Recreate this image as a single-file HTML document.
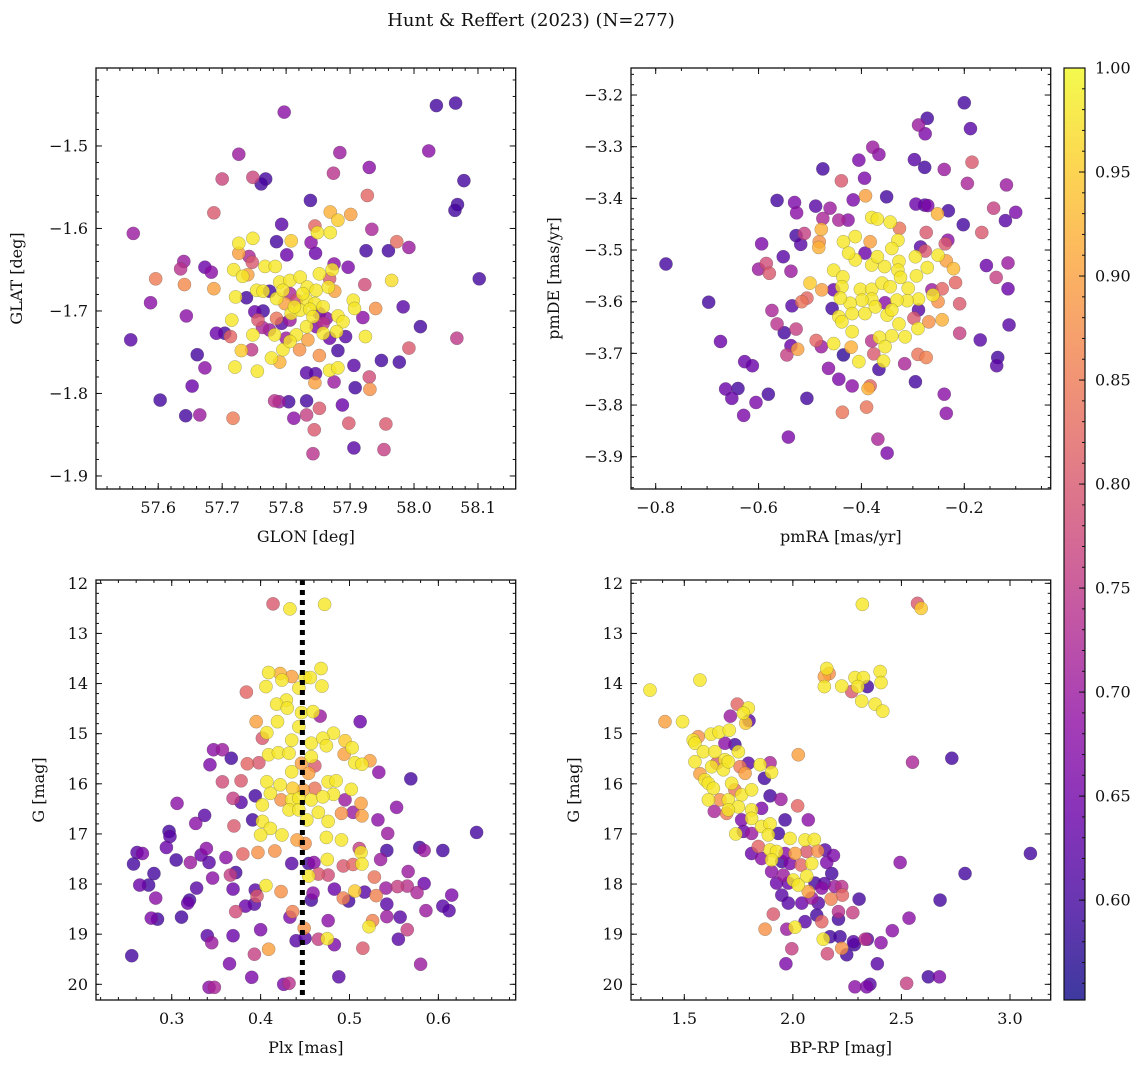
<!DOCTYPE html>
<html><head><meta charset="utf-8"><style>
body{margin:0;background:#fff;}
svg text{font-family:"DejaVu Serif","Liberation Serif",serif;fill:#111;}
</style></head><body>
<svg id="fig" xmlns="http://www.w3.org/2000/svg" width="1148" height="1067" viewBox="0 0 1148 1067">
<rect width="1148" height="1067" fill="#fff"/>
<text x="531" y="26" font-size="18" text-anchor="middle">Hunt &amp; Reffert (2023) (N=277)</text>
</svg>
<script>
// ---- Panel 1: GLON vs GLAT ----
const tlGlon=[57.797,58.035,58.065,57.726,57.884,58.023,57.700,57.748,57.768,57.761,57.874,57.930,58.078,57.838,57.927,58.068,58.064,57.687,57.561,57.793,57.845,57.934,57.869,57.901,57.881,57.973,57.992,57.925,57.960,57.785,57.808,57.726,57.748,57.839,57.801,57.846,57.640,57.635,57.673,57.683,57.596,57.641,57.687,57.726,57.742,57.747,57.588,57.644,57.557,57.691,57.704,57.713,57.661,57.673,57.653,57.603,57.643,57.665,57.717,57.782,57.789,57.804,57.832,57.812,57.832,57.852,57.844,57.888,57.898,57.956,57.842,57.906,57.953,57.906,57.908,57.930,57.931,57.875,57.949,57.977,57.992,58.067,58.010,58.102,57.983,57.940,57.920,57.897,57.923,57.875,57.965,57.881,57.832,57.846,57.845,57.715,57.720,57.755,57.777,57.790,57.730,57.746,57.748,57.763,57.756,57.751,57.764,57.782,57.795,57.721,57.738,57.718,57.732,57.740,57.767,57.783,57.754,57.764,57.774,57.790,57.806,57.822,57.833,57.847,57.852,57.872,57.868,57.866,57.876,57.785,57.798,57.816,57.832,57.845,57.858,57.808,57.822,57.837,57.852,57.863,57.881,57.889,57.905,57.907,57.785,57.806,57.832,57.816,57.834,57.858,57.879,57.893,57.924,57.806,57.821,57.852,57.868,57.881,57.800,57.774,57.858,57.847,57.868,57.795,57.806,57.826,57.813,57.793,57.842,57.869,57.849];
const tlGlat=[-1.459,-1.451,-1.448,-1.510,-1.508,-1.506,-1.540,-1.538,-1.540,-1.546,-1.533,-1.526,-1.542,-1.566,-1.560,-1.571,-1.578,-1.581,-1.606,-1.595,-1.597,-1.601,-1.580,-1.583,-1.590,-1.616,-1.623,-1.627,-1.627,-1.616,-1.615,-1.618,-1.612,-1.617,-1.632,-1.630,-1.640,-1.649,-1.647,-1.653,-1.661,-1.668,-1.673,-1.630,-1.634,-1.641,-1.690,-1.706,-1.735,-1.727,-1.727,-1.731,-1.753,-1.769,-1.791,-1.808,-1.827,-1.826,-1.830,-1.809,-1.810,-1.810,-1.809,-1.830,-1.826,-1.818,-1.844,-1.814,-1.836,-1.837,-1.873,-1.866,-1.868,-1.766,-1.793,-1.780,-1.795,-1.786,-1.760,-1.762,-1.745,-1.733,-1.719,-1.661,-1.695,-1.697,-1.708,-1.647,-1.668,-1.643,-1.663,-1.748,-1.775,-1.776,-1.787,-1.711,-1.768,-1.773,-1.757,-1.762,-1.748,-1.747,-1.729,-1.720,-1.711,-1.701,-1.700,-1.729,-1.747,-1.683,-1.684,-1.650,-1.658,-1.656,-1.646,-1.646,-1.675,-1.676,-1.676,-1.665,-1.663,-1.659,-1.671,-1.675,-1.655,-1.650,-1.661,-1.671,-1.676,-1.685,-1.691,-1.687,-1.687,-1.691,-1.695,-1.703,-1.699,-1.698,-1.703,-1.709,-1.706,-1.713,-1.687,-1.697,-1.709,-1.711,-1.719,-1.729,-1.735,-1.727,-1.725,-1.731,-1.731,-1.737,-1.747,-1.754,-1.772,-1.769,-1.733,-1.723,-1.715,-1.719,-1.733,-1.675,-1.679,-1.679,-1.695,-1.715,-1.707,-1.605,-1.605];
const tlProb=[.68,.6,.6,.7,.7,.68,.77,.77,.6,.6,.74,.68,.6,.6,.82,.6,.6,.8,.7,.62,.82,.72,.92,.9,.95,.83,.7,.6,.6,.6,.95,.98,.98,.68,.64,.64,.7,.74,.64,.68,.85,.87,.9,.9,.72,.8,.68,.68,.62,.64,.6,.82,.6,.68,.64,.6,.6,.7,.85,.74,.7,.6,.6,.68,.76,.8,.8,.64,.8,.8,.74,.62,.76,.62,.6,.78,.88,.7,.6,.6,.8,.75,.6,.6,.62,.88,.68,.66,.78,.68,.97,.6,.62,.62,.9,.98,.98,.98,.98,.92,.95,.75,.98,.72,.8,.64,.6,.98,.98,.98,.6,.98,.98,.9,.98,.98,.98,.98,.6,.98,.98,.98,.98,.98,.98,.98,.8,.98,.9,.98,.9,.78,.98,.98,.98,.98,.98,.98,.64,.68,.98,.98,.98,.98,.84,.7,.98,.98,.9,.98,.98,.62,.98,.98,.88,.88,.98,.98,.7,.7,.74,.66,.64,.98,.72,.98,.98,.62,.98,.98,.98];

// ---- Panel 2: pmRA vs pmDE ----
const trPmra=[-0.200,-0.272,-0.289,-0.276,-0.188,-0.378,-0.366,-0.405,-0.297,-0.277,-0.185,-0.239,-0.475,-0.439,-0.394,-0.194,-0.118,-0.392,-0.351,-0.416,-0.564,-0.530,-0.526,-0.489,-0.461,-0.294,-0.277,-0.271,-0.231,-0.252,-0.143,-0.100,-0.120,-0.202,-0.166,-0.274,-0.380,-0.369,-0.344,-0.444,-0.426,-0.475,-0.478,-0.511,-0.527,-0.518,-0.482,-0.483,-0.435,-0.412,-0.383,-0.326,-0.329,-0.232,-0.237,-0.285,-0.276,-0.341,-0.594,-0.552,-0.585,-0.600,-0.579,-0.537,-0.780,-0.157,-0.115,-0.138,-0.115,-0.217,-0.235,-0.221,-0.251,-0.272,-0.295,-0.327,-0.329,-0.355,-0.380,-0.369,-0.393,-0.412,-0.425,-0.454,-0.436,-0.500,-0.477,-0.506,-0.516,-0.454,-0.438,-0.402,-0.380,-0.360,-0.344,-0.324,-0.309,-0.293,-0.263,-0.243,-0.261,-0.289,-0.311,-0.331,-0.354,-0.380,-0.399,-0.422,-0.441,-0.457,-0.444,-0.418,-0.393,-0.373,-0.350,-0.341,-0.327,-0.289,-0.298,-0.269,-0.243,-0.251,-0.209,-0.113,-0.209,-0.169,-0.290,-0.315,-0.341,-0.365,-0.354,-0.380,-0.418,-0.438,-0.454,-0.478,-0.488,-0.524,-0.537,-0.545,-0.527,-0.550,-0.564,-0.535,-0.574,-0.674,-0.697,-0.627,-0.612,-0.664,-0.640,-0.652,-0.629,-0.605,-0.581,-0.506,-0.542,-0.435,-0.420,-0.405,-0.376,-0.357,-0.366,-0.316,-0.290,-0.274,-0.135,-0.137,-0.295,-0.239,-0.235,-0.464,-0.444,-0.418,-0.383,-0.387,-0.437,-0.390,-0.368,-0.350];
const trPmde=[-3.215,-3.245,-3.258,-3.275,-3.265,-3.301,-3.315,-3.326,-3.325,-3.340,-3.330,-3.344,-3.343,-3.366,-3.361,-3.371,-3.374,-3.395,-3.397,-3.403,-3.404,-3.408,-3.428,-3.415,-3.419,-3.411,-3.413,-3.414,-3.424,-3.430,-3.419,-3.427,-3.443,-3.451,-3.466,-3.466,-3.437,-3.440,-3.446,-3.442,-3.442,-3.439,-3.460,-3.468,-3.472,-3.489,-3.484,-3.495,-3.484,-3.474,-3.484,-3.458,-3.481,-3.481,-3.488,-3.494,-3.502,-3.497,-3.488,-3.513,-3.526,-3.537,-3.545,-3.541,-3.527,-3.530,-3.525,-3.553,-3.575,-3.563,-3.521,-3.536,-3.510,-3.534,-3.513,-3.522,-3.539,-3.532,-3.529,-3.513,-3.506,-3.519,-3.506,-3.539,-3.552,-3.564,-3.577,-3.593,-3.600,-3.577,-3.571,-3.576,-3.576,-3.564,-3.571,-3.553,-3.574,-3.550,-3.577,-3.575,-3.587,-3.595,-3.598,-3.597,-3.602,-3.595,-3.597,-3.603,-3.593,-3.613,-3.629,-3.623,-3.623,-3.610,-3.626,-3.616,-3.643,-3.616,-3.632,-3.639,-3.635,-3.600,-3.604,-3.645,-3.661,-3.674,-3.652,-3.668,-3.666,-3.669,-3.687,-3.676,-3.658,-3.639,-3.681,-3.687,-3.675,-3.692,-3.685,-3.703,-3.653,-3.660,-3.643,-3.608,-3.617,-3.677,-3.601,-3.716,-3.724,-3.769,-3.768,-3.787,-3.820,-3.795,-3.779,-3.787,-3.862,-3.703,-3.688,-3.716,-3.701,-3.715,-3.731,-3.720,-3.702,-3.708,-3.708,-3.724,-3.755,-3.779,-3.816,-3.729,-3.750,-3.763,-3.763,-3.768,-3.814,-3.804,-3.866,-3.893];
const trProb=[.6,.6,.7,.66,.62,.7,.68,.66,.62,.6,.8,.7,.6,.8,.66,.72,.7,.9,.6,.66,.6,.66,.68,.62,.7,.64,.62,.66,.6,.92,.76,.66,.62,.6,.8,.8,.98,.98,.98,.72,.68,.72,.92,.76,.6,.62,.88,.92,.98,.98,.9,.84,.98,.68,.8,.62,.8,.98,.66,.62,.78,.7,.8,.7,.6,.64,.7,.76,.64,.82,.9,.93,.98,.98,.98,.98,.98,.98,.98,.98,.64,.98,.98,.98,.98,.95,.9,.82,.84,.64,.98,.98,.98,.98,.98,.98,.98,.98,.7,.82,.98,.98,.98,.98,.68,.98,.98,.98,.98,.6,.98,.98,.98,.98,.98,.98,.98,.62,.8,.88,.92,.88,.8,.62,.76,.62,.98,.98,.98,.98,.98,.74,.98,.98,.98,.7,.82,.9,.64,.76,.76,.6,.74,.62,.72,.64,.6,.64,.64,.64,.6,.64,.66,.66,.6,.6,.66,.58,.92,.98,.8,.98,.6,.72,.84,.86,.6,.62,.6,.68,.68,.68,.66,.68,.82,.92,.84,.84,.72,.66];

// ---- Panel 3: Plx vs G ----
const blPlx=[.414,.433,.472,.409,.422,.424,.435,.450,.456,.468,.469,.406,.443,.384,.429,.418,.430,.446,.459,.467,.395,.419,.443,.407,.482,.435,.457,.470,.474,.495,.503,.402,.512,.347,.357,.367,.343,.385,.398,.409,.420,.432,.457,.446,.461,.494,.506,.514,.523,.533,.569,.357,.378,.407,.422,.435,.454,.476,.485,.502,.411,.436,.448,.461,.482,.369,.378,.394,.402,.423,.435,.443,.457,.470,.495,.513,.553,.306,.337,.327,.370,.391,.402,.411,.432,.443,.452,.465,.476,.491,.504,.514,.532,.543,.297,.298,.294,.339,.400,.424,.441,.450,.474,.491,.511,.513,.542,.579,.584,.605,.643,.261,.267,.257,.305,.321,.333,.342,.361,.380,.397,.416,.435,.454,.460,.475,.493,.504,.514,.535,.280,.372,.366,.346,.454,.465,.476,.528,.566,.264,.274,.328,.369,.394,.406,.423,.459,.483,.506,.517,.530,.541,.554,.565,.576,.584,.615,.282,.320,.318,.383,.393,.396,.457,.499,.493,.542,.605,.612,.586,.557,.542,.526,.522,.277,.284,.311,.372,.433,.436,.449,.476,.340,.345,.369,.400,.440,.450,.465,.475,.483,.515,.555,.565,.255,.393,.409,.365,.580,.390,.488,.342,.348,.426,.432];
const blG=[12.41,12.51,12.42,13.78,13.80,13.93,13.86,13.88,13.88,13.70,14.05,14.06,14.09,14.17,14.33,14.41,14.49,14.58,14.56,14.65,14.76,14.76,14.86,14.98,14.99,15.13,15.19,15.09,15.24,15.14,15.28,15.09,14.76,15.32,15.32,15.49,15.62,15.60,15.58,15.42,15.38,15.39,15.46,15.59,15.64,15.41,15.58,15.61,15.54,15.77,15.90,15.96,15.94,15.96,16.02,15.76,15.79,15.96,15.94,16.11,16.19,16.09,16.12,16.09,16.21,16.29,16.37,16.24,16.42,16.32,16.32,16.29,16.32,16.26,16.32,16.39,16.47,16.39,16.63,16.79,16.84,16.72,16.75,16.89,16.52,16.52,16.72,16.57,16.75,16.59,16.57,16.64,16.72,16.99,16.95,17.05,17.27,17.29,17.02,17.02,17.12,17.19,17.07,17.12,17.29,17.37,17.33,17.27,17.33,17.33,16.97,17.37,17.39,17.60,17.52,17.57,17.42,17.57,17.47,17.40,17.37,17.34,17.59,17.59,17.57,17.51,17.64,17.61,17.60,17.51,17.79,17.77,17.82,17.88,17.84,17.80,17.82,17.86,17.75,18.02,18.02,18.08,18.10,18.12,18.03,18.15,18.18,18.10,18.14,18.16,18.23,18.08,18.05,18.04,18.17,17.99,18.22,18.28,18.32,18.38,18.44,18.40,18.24,18.32,18.34,18.28,18.40,18.44,18.53,18.53,18.66,18.65,18.73,18.85,18.68,18.70,18.66,18.55,18.66,18.55,18.88,18.73,19.03,19.17,19.03,18.91,19.13,19.08,19.10,19.09,19.21,19.28,19.10,18.91,19.43,19.40,19.30,19.59,19.60,19.86,19.85,20.06,20.06,20.00,19.98];
const blProb=[.8,.98,.98,.98,.92,.98,.9,.98,.98,.98,.98,.98,.98,.82,.98,.98,.98,.98,.98,.7,.9,.98,.98,.98,.98,.98,.98,.98,.98,.95,.98,.8,.64,.68,.7,.6,.66,.82,.8,.98,.98,.98,.98,.9,.8,.9,.98,.98,.9,.68,.6,.78,.8,.98,.98,.98,.9,.98,.98,.98,.98,.95,.9,.84,.98,.76,.62,.6,.98,.88,.98,.98,.98,.98,.7,.9,.68,.68,.62,.68,.8,.6,.98,.98,.98,.98,.98,.98,.98,.88,.7,.9,.68,.7,.6,.62,.64,.68,.98,.98,.9,.88,.98,.98,.76,.98,.6,.6,.7,.6,.6,.62,.66,.6,.6,.7,.64,.62,.68,.82,.88,.88,.62,.6,.68,.98,.8,.82,.98,.7,.6,.6,.76,.68,.98,.8,.78,.84,.7,.64,.6,.62,.64,.62,.98,.88,.68,.64,.95,.62,.86,.7,.76,.74,.72,.64,.66,.68,.6,.64,.64,.62,.8,.6,.6,.86,.62,.62,.62,.7,.62,.7,.86,.98,.66,.6,.6,.78,.66,.86,.88,.68,.62,.7,.64,.66,.62,.62,.76,.98,.66,.8,.62,.76,.6,.76,.9,.66,.7,.66,.62,.68,.72,.66,.74];

// ---- Panel 4: BP-RP vs G ----
const brColor=[2.320,2.574,2.591,1.342,1.572,1.411,1.492,2.156,2.145,2.167,2.145,2.225,2.271,2.286,2.325,2.299,2.343,2.317,2.402,2.406,2.379,2.414,1.744,1.712,1.795,1.772,1.798,1.783,2.025,2.551,2.732,1.541,1.549,1.623,1.660,1.707,1.564,1.588,1.549,1.641,1.687,1.733,1.749,1.687,1.649,1.626,1.572,1.595,1.611,1.680,1.703,1.757,1.795,1.849,1.895,1.902,1.780,1.869,1.718,1.733,1.634,1.611,1.664,1.703,1.764,1.810,1.895,1.945,1.749,1.703,1.695,1.638,1.810,1.856,1.810,1.764,1.964,2.071,2.022,1.856,1.895,1.887,1.933,1.737,1.772,1.810,1.987,2.056,2.099,1.841,1.895,1.925,1.964,2.010,2.064,2.114,2.148,2.187,1.810,1.856,1.902,1.949,1.987,2.038,2.087,2.156,2.179,1.902,1.956,2.002,2.064,2.025,1.979,1.925,2.102,2.145,2.071,2.133,2.194,2.225,1.949,1.979,2.041,2.087,2.117,2.176,2.228,2.305,2.494,2.793,3.094,2.678,2.535,2.458,1.910,1.872,1.972,2.010,2.056,2.110,2.133,2.210,2.210,2.276,2.171,2.217,2.140,2.279,2.283,2.333,2.343,2.406,2.225,2.248,1.995,2.159,1.968,2.389,2.624,2.675,2.524,2.286,2.340,2.355];
const brG=[12.42,12.40,12.50,14.13,13.93,14.76,14.76,13.70,13.86,13.80,14.06,14.05,14.16,13.88,13.88,14.06,14.06,14.35,13.76,13.98,14.41,14.55,14.41,14.65,14.49,14.59,14.74,14.79,15.42,15.57,15.49,15.13,15.19,15.01,14.97,14.93,15.06,15.36,15.56,15.36,15.19,15.22,15.36,15.52,15.59,15.66,15.80,15.92,15.99,15.72,15.56,15.66,15.59,15.62,15.58,15.77,15.79,15.89,15.99,16.12,16.09,16.32,16.32,16.32,16.22,16.12,16.24,16.31,16.46,16.52,16.59,16.55,16.52,16.49,16.69,16.72,16.72,16.72,16.44,16.85,16.80,17.02,16.99,17.00,16.95,16.99,17.09,17.12,17.11,17.25,17.32,17.35,17.39,17.39,17.35,17.34,17.32,17.43,17.39,17.49,17.52,17.55,17.59,17.62,17.59,17.57,17.79,17.75,17.82,17.92,17.84,18.02,17.98,17.98,17.98,17.99,18.15,18.08,18.05,18.05,18.22,18.38,18.38,18.28,18.38,18.30,18.22,18.30,17.57,17.79,17.39,18.32,18.68,18.93,18.60,18.90,18.90,18.86,18.75,18.62,18.75,18.55,18.70,18.57,19.05,19.05,19.10,19.15,19.21,19.10,19.10,19.17,19.28,19.41,19.29,19.39,19.59,19.59,19.85,19.85,19.98,20.05,20.05,20.00];
const brProb=[.98,.8,.95,.98,.98,.9,.98,.98,.9,.88,.98,.98,.8,.98,.98,.98,.6,.98,.98,.98,.98,.98,.82,.7,.98,.98,.62,.95,.9,.72,.6,.98,.98,.98,.98,.98,.88,.98,.98,.98,.68,.6,.98,.98,.8,.98,.9,.98,.98,.98,.98,.85,.62,.98,.72,.98,.9,.6,.98,.84,.98,.98,.88,.98,.98,.98,.6,.7,.98,.98,.85,.72,.98,.66,.98,.66,.6,.68,.82,.98,.98,.98,.6,.98,.64,.7,.98,.98,.98,.82,.98,.98,.68,.9,.8,.88,.62,.66,.64,.68,.98,.6,.66,.82,.98,.66,.6,.68,.7,.98,.98,.98,.64,.64,.6,.62,.9,.68,.7,.74,.62,.62,.64,.7,.62,.86,.82,.6,.68,.6,.6,.6,.68,.68,.8,.88,.7,.98,.62,.6,.82,.74,.6,.76,.6,.6,.98,.62,.6,.74,.62,.68,.88,.6,.76,.78,.66,.62,.6,.66,.76,.68,.66,.62];

// ticks
const tlXTicks=[57.6,57.7,57.8,57.9,58.0,58.1];
const tlYTicks=[-1.9,-1.8,-1.7,-1.6,-1.5];
const trXTicks=[-0.8,-0.6,-0.4,-0.2];
const trYTicks=[-3.9,-3.8,-3.7,-3.6,-3.5,-3.4,-3.3,-3.2];
const blXTicks=[0.3,0.4,0.5,0.6];
const gTicks=[12,13,14,15,16,17,18,19,20];
const brXTicks=[1.5,2.0,2.5,3.0];
const cbTicks=[0.60,0.65,0.70,0.75,0.80,0.85,0.90,0.95,1.00];
const plxLine=0.447;

const VMIN=0.552, VMAX=1.0;
const NS="http://www.w3.org/2000/svg";
const svg=document.getElementById('fig');
const stops=[[13,8,135],[65,4,157],[106,0,168],[143,13,164],[177,42,144],[204,71,120],[225,100,98],[242,132,75],[252,166,54],[252,206,37],[240,249,33]];
function plasma(v){let t=Math.max(0,Math.min(1,(v-VMIN)/(VMAX-VMIN)))*10;let i=Math.min(9,Math.floor(t)),f=t-i;const a=stops[i],b=stops[i+1];return `rgb(${Math.round(a[0]+(b[0]-a[0])*f)},${Math.round(a[1]+(b[1]-a[1])*f)},${Math.round(a[2]+(b[2]-a[2])*f)})`;}
function el(tag,attrs,parent){const e=document.createElementNS(NS,tag);for(const k in attrs)e.setAttribute(k,attrs[k]);(parent||svg).appendChild(e);return e;}

const FS=16;
function panel(o){
  const g=el('g',{});
  
  
  const sx=v=>o.L+(v-o.x0)/(o.x1-o.x0)*(o.R-o.L);
  const sy=v=>o.B-(v-o.y0)/(o.y1-o.y0)*(o.B-o.T);
  const idx=o.xs.map((_,i)=>i).sort((a,b)=>o.cs[a]-o.cs[b]);
  const pg=el('g',{},g);
  
  
  idx.forEach(i=>{
    const c=el('circle',{cx:sx(o.xs[i]),cy:sy(o.ys[i]),r:6.6,fill:plasma(o.cs[i]),'fill-opacity':0.8,stroke:'#444','stroke-opacity':0.45,'stroke-width':0.5},pg);
    
    
  });
  if(o.vline!==undefined){
    const l=el('line',{x1:sx(o.vline),x2:sx(o.vline),y1:o.T,y2:o.B,stroke:'#000','stroke-width':5,'stroke-dasharray':'5,5'},g);
    
    
  }
  const fr=el('rect',{x:o.L,y:o.T,width:o.R-o.L,height:o.B-o.T,fill:'none',stroke:'#111','stroke-width':1.3},g);
  
  
  const tk=el('g',{stroke:'#111','stroke-width':1},g);
  const eps=1e-9;
  for(let v=Math.ceil(o.x0/o.xm-eps)*o.xm; v<=o.x1; v+=o.xm){const X=sx(v);el('line',{x1:X,x2:X,y1:o.B,y2:o.B-3},tk);el('line',{x1:X,x2:X,y1:o.T,y2:o.T+3},tk);}
  for(let v=Math.ceil(o.y0/o.ym-eps)*o.ym; v<=o.y1; v+=o.ym){const Y=sy(v);el('line',{x1:o.L,x2:o.L+3,y1:Y,y2:Y},tk);el('line',{x1:o.R,x2:o.R-3,y1:Y,y2:Y},tk);}
  o.xt.forEach(v=>{const X=sx(v);el('line',{x1:X,x2:X,y1:o.B,y2:o.B-6},tk);el('line',{x1:X,x2:X,y1:o.T,y2:o.T+6},tk);
    const t=el('text',{x:X,y:o.B+24,'font-size':FS,'text-anchor':'middle'},g);t.textContent=o.xf(v);
    });
  o.yt.forEach(v=>{const Y=sy(v);el('line',{x1:o.L,x2:o.L+6,y1:Y,y2:Y},tk);el('line',{x1:o.R,x2:o.R-6,y1:Y,y2:Y},tk);
    const t=el('text',{x:o.L-8,y:Y+5.5,'font-size':FS,'text-anchor':'end'},g);t.textContent=o.yf(v);
    });
  const xl=el('text',{x:(o.L+o.R)/2,y:o.B+53,'font-size':FS,'text-anchor':'middle'},g);xl.textContent=o.xlab;
  
  const yl=el('text',{x:0,y:0,'font-size':FS,'text-anchor':'middle',transform:`translate(${o.ylx},${(o.T+o.B)/2}) rotate(-90)`},g);yl.textContent=o.ylab;
  
}
const mfmt=v=>(v<0?'\u2212':'')+Math.abs(v).toFixed(1);
panel({name:'glon-glat-panel',L:96,R:515.7,T:68,B:489,x0:57.5027,x1:58.159,y0:-1.9158,y1:-1.4055,xm:0.02,ym:0.02,xs:tlGlon,ys:tlGlat,cs:tlProb,xt:tlXTicks,yt:tlYTicks,xf:v=>v.toFixed(1),yf:mfmt,xlab:'GLON [deg]',ylab:'GLAT [deg]',ylx:22});
panel({name:'pm-panel',L:631,R:1050.7,T:68,B:489,x0:-0.848,x1:-0.032,y0:-3.9625,y1:-3.1477,xm:0.05,ym:0.02,xs:trPmra,ys:trPmde,cs:trProb,xt:trXTicks,yt:trYTicks,xf:mfmt,yf:mfmt,xlab:'pmRA [mas/yr]',ylab:'pmDE [mas/yr]',ylx:559});
panel({name:'plx-g-panel',L:96,R:515.7,T:580,B:1000,x0:0.2148,x1:0.687,y0:-20.313,y1:-11.934,xm:0.02,ym:0.2,xs:blPlx,ys:blG.map(v=>-v),cs:blProb,xt:blXTicks,yt:gTicks.map(v=>-v),xf:v=>v.toFixed(1),yf:v=>String(-v),xlab:'Plx [mas]',ylab:'G [mag]',ylx:44,vline:plxLine});
panel({name:'cmd-panel',L:631,R:1050.7,T:580,B:1000,x0:1.2545,x1:3.1875,y0:-20.313,y1:-11.934,xm:0.1,ym:0.2,xs:brColor,ys:brG.map(v=>-v),cs:brProb,xt:brXTicks,yt:gTicks.map(v=>-v),xf:v=>v.toFixed(1),yf:v=>String(-v),xlab:'BP-RP [mag]',ylab:'G [mag]',ylx:579});

// colorbar
(function(){
  const L=1064,R=1085,T=68,B=1000;
  const cg=el('g',{});
  
  
  const defs=el('defs',{},cg);
  const lg=el('linearGradient',{id:'cbgrad',x1:0,y1:1,x2:0,y2:0},defs);
  for(let i=0;i<=20;i++){const v=VMIN+(VMAX-VMIN)*i/20;el('stop',{offset:(i/20),'stop-color':plasma(v)},lg);}
  el('rect',{x:L,y:T,width:R-L,height:B-T,fill:'url(#cbgrad)','fill-opacity':0.8},cg);
  el('rect',{x:L,y:T,width:R-L,height:B-T,fill:'none',stroke:'#111','stroke-width':1.2},cg);
  const sy=v=>B-(v-VMIN)/(VMAX-VMIN)*(B-T);
  for(let v=0.56;v<=1.0001;v+=0.01){const Y=sy(v);el('line',{x1:R,x2:R-3,y1:Y,y2:Y,stroke:'#111','stroke-width':1},cg);}
  cbTicks.forEach(v=>{const Y=sy(v);el('line',{x1:R,x2:R-6,y1:Y,y2:Y,stroke:'#111','stroke-width':1},cg);
    const t=el('text',{x:R+10,y:Y+5.5,'font-size':FS},cg);t.textContent=v.toFixed(2);
    });
})();
</script>
</body></html>
